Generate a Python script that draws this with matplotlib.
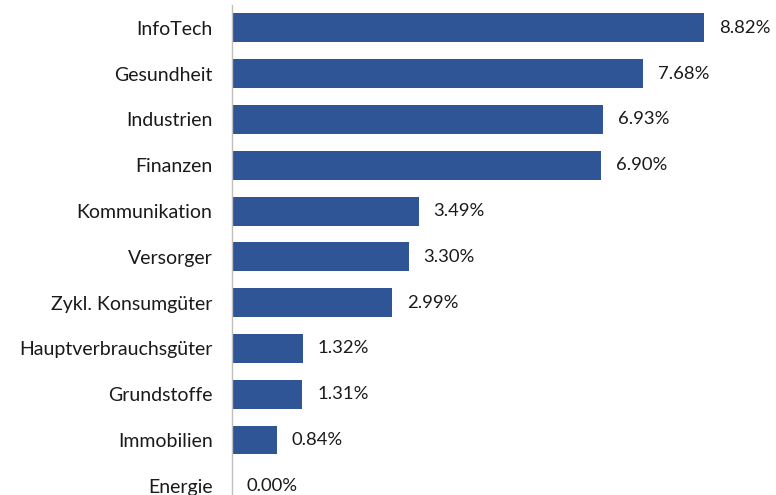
import matplotlib.pyplot as plt

plt.rcParams['font.family'] = ['Lato', 'DejaVu Sans']

sektoren = ['InfoTech', 'Gesundheit', 'Industrien', 'Finanzen', 'Kommunikation',
            'Versorger', 'Zykl. Konsumgüter', 'Hauptverbrauchsgüter', 'Grundstoffe',
            'Immobilien', 'Energie']
anteile = [8.82, 7.68, 6.93, 6.90, 3.49, 3.30, 2.99, 1.32, 1.31, 0.84, 0.00]

fig = plt.figure(figsize=(7.76, 4.95), dpi=100)
ax = fig.add_axes([232 / 776, 0, 538 / 776, 490 / 495])

pos = list(range(len(sektoren)))
ax.barh(pos, anteile, height=0.63, color='#2F5597')

for y, v in zip(pos, anteile):
    ax.text(v + 0.28, y, f'{v:.2f}%', va='center', ha='left', fontsize=13.3, color='#1a1a1a')

ax.set_yticks(pos)
ax.set_yticklabels(sektoren, fontsize=14, color='#1a1a1a')
ax.set_ylim(10.2, -0.5)
ax.set_xlim(0, 538 / 53.5)
ax.set_xticks([])
ax.tick_params(axis='y', length=0, pad=14)

for s in ['top', 'right', 'bottom']:
    ax.spines[s].set_visible(False)
ax.spines['left'].set_color('#BFBFBF')
ax.spines['left'].set_linewidth(1)

fig.savefig('out.png', dpi=100)
